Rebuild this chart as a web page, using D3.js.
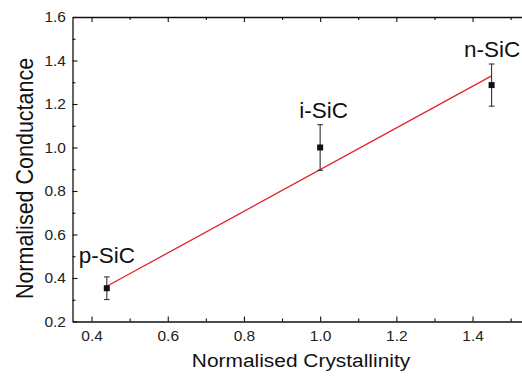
<!DOCTYPE html>
<html>
<head>
<meta charset="utf-8">
<script src="https://cdn.jsdelivr.net/npm/d3@7"></script>
<style>
  html, body { margin: 0; padding: 0; background: #fff; }
  svg { display: block; font-family: Arial, "Liberation Sans", sans-serif; }
</style>
</head>
<body>
<svg id="chart" width="522" height="379"></svg>
<script>
// Samples: normalised crystallinity vs normalised conductance
const samples = ["p-SiC", "i-SiC", "n-SiC"];
const crystallinity = [0.44, 1.0, 1.45];
const conductance = [0.353, 1.0, 1.287];
const conductanceErr = [0.052, 0.105, 0.097];

// Linear fit through the samples (end points)
const fitX = [0.44, 1.45];
const fitY = [0.362, 1.329];

const xTicks = [0.4, 0.6, 0.8, 1.0, 1.2, 1.4];
const yTicks = [0.2, 0.4, 0.6, 0.8, 1.0, 1.2, 1.4, 1.6];
const minorX = [0.5, 0.7, 0.9, 1.1, 1.3, 1.5];
const minorY = [0.3, 0.5, 0.7, 0.9, 1.1, 1.3, 1.5];

const svg = d3.select("#chart");
const plotL = 72.5, plotR = 529.7, plotT = 17, plotB = 321.5;

const x = d3.scaleLinear().domain([0.35, 1.55]).range([plotL, plotR]);
const y = d3.scaleLinear().domain([0.2, 1.6]).range([plotB, plotT]);

function styleAxis(g) {
  g.select(".domain").attr("stroke", "#111").attr("stroke-width", 1.3);
  g.selectAll(".tick line").attr("stroke", "#111").attr("stroke-width", 1.1);
  g.selectAll(".tick text").attr("fill", "#222").attr("font-size", 15.5)
    .attr("font-family", "Arial, 'Liberation Sans', sans-serif");
}
function minor(g) {
  g.select(".domain").remove();
  g.selectAll("line").attr("stroke", "#111").attr("stroke-width", 1.1);
}

// Bottom axis (ticks point inward)
const gx = svg.append("g").attr("transform", `translate(0,${plotB})`)
  .call(d3.axisBottom(x).tickValues(xTicks).tickFormat(d3.format(".1f"))
    .tickSizeInner(-5).tickSizeOuter(0).tickPadding(8.5));
styleAxis(gx);
svg.append("g").attr("transform", `translate(0,${plotB})`)
  .call(d3.axisBottom(x).tickValues(minorX).tickFormat("").tickSizeInner(-3).tickSizeOuter(0))
  .call(minor);

// Top axis
const gt = svg.append("g").attr("transform", `translate(0,${plotT})`)
  .call(d3.axisTop(x).tickValues(xTicks).tickFormat("").tickSizeInner(-5).tickSizeOuter(0));
styleAxis(gt);
svg.append("g").attr("transform", `translate(0,${plotT})`)
  .call(d3.axisTop(x).tickValues(minorX).tickFormat("").tickSizeInner(-3).tickSizeOuter(0))
  .call(minor);

// Left axis
const gy = svg.append("g").attr("transform", `translate(${plotL},0)`)
  .call(d3.axisLeft(y).tickValues(yTicks).tickFormat(d3.format(".1f"))
    .tickSizeInner(-5).tickSizeOuter(0).tickPadding(6.5));
styleAxis(gy);
svg.append("g").attr("transform", `translate(${plotL},0)`)
  .call(d3.axisLeft(y).tickValues(minorY).tickFormat("").tickSizeInner(-3).tickSizeOuter(0))
  .call(minor);

// Right axis
const gr = svg.append("g").attr("transform", `translate(${plotR},0)`)
  .call(d3.axisRight(y).tickValues(yTicks).tickFormat("").tickSizeInner(-5).tickSizeOuter(0));
styleAxis(gr);

// Fit line
svg.append("path")
  .datum(fitX.map((v, i) => [v, fitY[i]]))
  .attr("d", d3.line().x(d => x(d[0])).y(d => y(d[1])))
  .attr("fill", "none").attr("stroke", "#e3232c").attr("stroke-width", 1.3);

// Error bars and markers
const pts = samples.map((s, i) => ({ s, cx: crystallinity[i], cy: conductance[i], e: conductanceErr[i] }));
const eb = svg.append("g").attr("stroke", "#333").attr("stroke-width", 1.1);
pts.forEach(p => {
  const px = x(p.cx);
  eb.append("line").attr("x1", px).attr("x2", px).attr("y1", y(p.cy + p.e)).attr("y2", y(p.cy - p.e));
  [p.cy + p.e, p.cy - p.e].forEach(v =>
    eb.append("line").attr("x1", px - 2.8).attr("x2", px + 2.8).attr("y1", y(v)).attr("y2", y(v)));
});
svg.append("g").selectAll("rect").data(pts).join("rect")
  .attr("x", d => x(d.cx) - 3).attr("y", d => y(d.cy) - 3)
  .attr("width", 6).attr("height", 6).attr("fill", "#111");

// Sample labels above the error bars
const labelGap = [14, 6.5, 7];
const labelShift = [0, 3.5, 0.5];
svg.append("g").selectAll("text").data(pts).join("text")
  .attr("x", (d, i) => x(d.cx) + labelShift[i])
  .attr("y", (d, i) => y(d.cy + d.e) - labelGap[i])
  .attr("text-anchor", "middle").attr("font-size", 22.5).attr("fill", "#111")
  .text(d => d.s);

// Axis titles (slightly widened lettering)
svg.append("text").attr("transform", "translate(301,367) scale(1.1,1)")
  .attr("text-anchor", "middle").attr("font-size", 19).attr("fill", "#111")
  .text("Normalised Crystallinity");
svg.append("text").attr("transform", "translate(33,178.5) scale(1.12,1) rotate(-90)")
  .attr("text-anchor", "middle").attr("font-size", 21.5).attr("fill", "#111")
  .text("Normalised Conductance");
</script>
</body>
</html>
